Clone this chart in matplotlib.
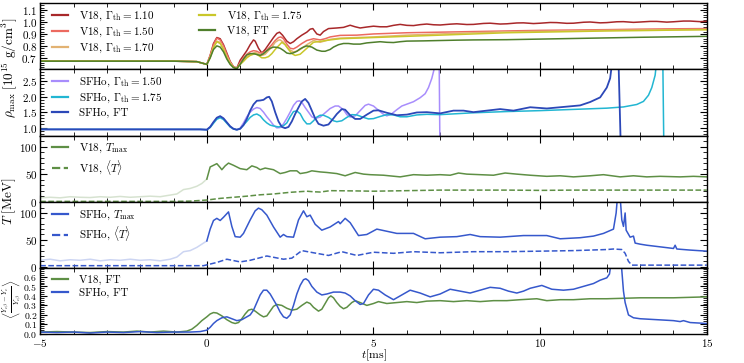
import matplotlib
matplotlib.use("Agg")
import matplotlib.pyplot as plt
from matplotlib.ticker import MultipleLocator, FixedLocator

plt.rcParams['font.family'] = ['cmr10', 'DejaVu Serif']
plt.rcParams['mathtext.fontset'] = 'cm'
plt.rcParams['axes.formatter.use_mathtext'] = True
plt.rcParams['axes.unicode_minus'] = True

# ---------------- panel 1: V18 max density ----------------
v18_110_t = [-5, -1, -0.3, 0.0, 0.1, 0.2, 0.3, 0.4, 0.5, 0.6, 0.7, 0.8, 0.9, 1.0, 1.1, 1.2, 1.3, 1.4,
             1.45, 1.55, 1.65, 1.75, 1.85, 2.0, 2.1, 2.18, 2.27, 2.4, 2.5, 2.6, 2.7, 2.85, 3.0, 3.1,
             3.18, 3.3, 3.4, 3.5, 3.65, 3.9, 4.1, 4.3, 4.45, 4.6, 4.8, 5.0, 5.2, 5.4, 5.6, 5.8, 6.0,
             6.2, 6.4, 6.6, 6.8, 7.0, 7.3, 7.5, 7.8, 8.0, 8.3, 8.5, 8.8, 9.0, 9.3, 9.5, 9.8, 10,
             10.3, 10.5, 10.8, 11, 11.3, 11.5, 11.8, 12, 12.3, 12.5, 12.8, 13, 13.3, 13.5, 13.8, 14,
             14.3, 14.5, 14.8, 15]
v18_110_r = [0.672, 0.672, 0.668, 0.645, 0.72, 0.82, 0.87, 0.86, 0.81, 0.74, 0.67, 0.625, 0.615,
             0.68, 0.72, 0.76, 0.81, 0.85, 0.84, 0.78, 0.74, 0.77, 0.81, 0.87, 0.905, 0.915, 0.89,
             0.84, 0.82, 0.835, 0.86, 0.89, 0.915, 0.94, 0.945, 0.90, 0.89, 0.92, 0.945, 0.95,
             0.955, 0.973, 0.96, 0.95, 0.958, 0.965, 0.96, 0.96, 0.972, 0.98, 0.972, 0.97, 0.978,
             0.983, 0.977, 0.975, 0.982, 0.985, 0.979, 0.98, 0.988, 0.99, 0.983, 0.985, 0.992,
             0.993, 0.987, 0.99, 0.996, 0.995, 0.989, 0.99, 0.998, 1.0, 0.993, 0.995, 1.002, 1.003,
             0.997, 1.0, 1.005, 1.005, 0.999, 1.002, 1.008, 1.008, 1.003, 1.006]

v18_150_t = [-5, -1, -0.3, 0.0, 0.1, 0.2, 0.3, 0.4, 0.5, 0.6, 0.7, 0.8, 0.9, 1.0, 1.1, 1.2, 1.3,
             1.4, 1.5, 1.6, 1.75, 1.85, 1.95, 2.05, 2.15, 2.22, 2.3, 2.4, 2.5, 2.6, 2.7, 2.85, 3.0,
             3.2, 3.4, 3.55, 3.7, 4.0, 4.5, 5.0, 5.5, 6, 7, 8, 9, 10, 11, 12, 13, 14, 15]
v18_150_r = [0.672, 0.672, 0.668, 0.645, 0.72, 0.81, 0.865, 0.85, 0.80, 0.73, 0.665, 0.625, 0.612,
             0.66, 0.70, 0.73, 0.75, 0.76, 0.755, 0.74, 0.75, 0.78, 0.81, 0.845, 0.87, 0.875,
             0.86, 0.815, 0.78, 0.775, 0.79, 0.82, 0.845, 0.86, 0.85, 0.86, 0.875, 0.888, 0.89,
             0.9, 0.905, 0.91, 0.915, 0.92, 0.925, 0.93, 0.933, 0.936, 0.94, 0.943, 0.945]

v18_170_t = [-5, -1, -0.3, 0.0, 0.1, 0.2, 0.3, 0.4, 0.5, 0.6, 0.7, 0.8, 0.9, 1.0, 1.1, 1.2, 1.3,
             1.45, 1.55, 1.65, 1.75, 1.85, 1.95, 2.05, 2.15, 2.2, 2.3, 2.4, 2.5, 2.6, 2.7, 2.8, 3.0,
             3.2, 3.4, 3.7, 4.0, 4.5, 5, 6, 7, 8, 9, 10, 11, 12, 13, 14, 15]
v18_170_r = [0.672, 0.672, 0.668, 0.645, 0.71, 0.79, 0.84, 0.83, 0.78, 0.71, 0.66, 0.622, 0.612,
             0.65, 0.68, 0.71, 0.73, 0.745, 0.735, 0.72, 0.73, 0.76, 0.79, 0.83, 0.848, 0.85,
             0.83, 0.79, 0.765, 0.75, 0.755, 0.77, 0.81, 0.845, 0.83, 0.855, 0.865, 0.87, 0.875,
             0.89, 0.9, 0.91, 0.918, 0.922, 0.926, 0.93, 0.933, 0.936, 0.938]

v18_175_t = [-5, -1, -0.3, 0.0, 0.1, 0.2, 0.3, 0.4, 0.5, 0.6, 0.7, 0.8, 0.9, 1.0, 1.1, 1.2, 1.3,
             1.45, 1.55, 1.65, 1.75, 1.85, 1.95, 2.05, 2.15, 2.25, 2.35, 2.45, 2.55, 2.65, 2.8,
             3.0, 3.2, 3.45, 3.7, 4.0, 4.5, 5, 6, 7, 8, 9, 10, 11, 12, 13, 14, 15]
v18_175_r = [0.672, 0.672, 0.668, 0.645, 0.70, 0.785, 0.835, 0.82, 0.77, 0.70, 0.65, 0.62, 0.61,
             0.645, 0.67, 0.70, 0.72, 0.735, 0.72, 0.70, 0.70, 0.71, 0.735, 0.77, 0.80, 0.83,
             0.81, 0.77, 0.735, 0.72, 0.73, 0.78, 0.83, 0.84, 0.85, 0.86, 0.865, 0.87, 0.88, 0.89,
             0.9, 0.91, 0.915, 0.92, 0.925, 0.928, 0.932, 0.935]

v18_ft_t = [-5, -1, -0.3, 0.0, 0.1, 0.2, 0.3, 0.4, 0.5, 0.6, 0.7, 0.8, 0.9, 1.0, 1.1, 1.2, 1.3,
            1.4, 1.5, 1.6, 1.7, 1.8, 1.9, 2.0, 2.1, 2.2, 2.3, 2.4, 2.5, 2.6, 2.7, 2.8, 2.9, 3.0,
            3.15, 3.3, 3.45, 3.55, 3.7, 3.8, 3.95, 4.1, 4.25, 4.4, 4.6, 4.8, 5.0, 5.2, 5.4, 5.6,
            5.8, 6, 6.5, 7, 7.5, 8, 9, 10, 11, 12, 13, 14, 15]
v18_ft_r = [0.672, 0.672, 0.668, 0.645, 0.70, 0.77, 0.80, 0.79, 0.75, 0.69, 0.645, 0.618, 0.61,
            0.645, 0.69, 0.725, 0.735, 0.735, 0.728, 0.72, 0.735, 0.76, 0.78, 0.79, 0.788, 0.78,
            0.762, 0.74, 0.735, 0.742, 0.755, 0.775, 0.79, 0.80, 0.79, 0.765, 0.755, 0.755,
            0.77, 0.79, 0.81, 0.82, 0.82, 0.815, 0.815, 0.825, 0.83, 0.835, 0.83, 0.828, 0.835,
            0.84, 0.842, 0.845, 0.848, 0.85, 0.852, 0.857, 0.862, 0.867, 0.872, 0.876, 0.88]

# ---------------- panel 2: SFHo max density ----------------
sfho_150_t = [-5, -1, -0.2, 0.0, 0.1, 0.2, 0.3, 0.4, 0.5, 0.6, 0.7, 0.8, 0.9, 1.0, 1.1, 1.2, 1.3,
              1.4, 1.5, 1.6, 1.7, 1.8, 1.9, 2.0, 2.1, 2.2, 2.3, 2.4, 2.5, 2.6, 2.7, 2.78, 2.85,
              2.95, 3.05, 3.15, 3.25, 3.4, 3.55, 3.7, 3.85, 3.95, 4.1, 4.2, 4.3, 4.45, 4.6, 4.75,
              4.85, 5.0, 5.15, 5.3, 5.4, 5.55, 5.7, 5.85, 6.0, 6.2, 6.4, 6.55, 6.65, 6.75, 6.82,
              6.86, 6.97, 7.0]
sfho_150_r = [0.94, 0.94, 0.94, 0.93, 1.02, 1.17, 1.31, 1.36, 1.29, 1.16, 1.03, 0.95, 0.93, 0.98,
              1.15, 1.35, 1.5, 1.6, 1.65, 1.62, 1.5, 1.35, 1.22, 1.08, 0.99, 1.0, 1.12, 1.3, 1.5,
              1.72, 1.85, 1.87, 1.82, 1.65, 1.5, 1.35, 1.3, 1.34, 1.48, 1.62, 1.7, 1.7, 1.58,
              1.42, 1.34, 1.38, 1.55, 1.72, 1.76, 1.7, 1.56, 1.43, 1.38, 1.45, 1.58, 1.7, 1.76,
              1.84, 1.97, 2.1, 2.3, 2.6, 2.9, 3.2, 3.2, -0.5]

sfho_175_t = [-5, -1, -0.2, 0.0, 0.1, 0.2, 0.3, 0.4, 0.5, 0.6, 0.7, 0.8, 0.9, 1.0, 1.1, 1.2, 1.3,
              1.4, 1.5, 1.6, 1.7, 1.8, 1.9, 2.0, 2.15, 2.3, 2.4, 2.5, 2.6, 2.7, 2.8, 2.9, 3.0, 3.1,
              3.2, 3.3, 3.4, 3.5, 3.65, 3.8, 3.9, 4.05, 4.2, 4.35, 4.5, 4.7, 4.85, 5.0, 5.2, 5.4,
              5.6, 5.8, 6.0, 6.3, 6.6, 7.0, 7.5, 8, 9, 10, 11, 12, 12.5, 12.9, 13.1, 13.25, 13.35,
              13.45, 13.5, 13.68, 13.72]
sfho_175_r = [0.94, 0.94, 0.94, 0.93, 1.0, 1.14, 1.27, 1.32, 1.26, 1.14, 1.02, 0.95, 0.93, 0.96,
              1.08, 1.2, 1.33, 1.41, 1.44, 1.38, 1.25, 1.15, 1.08, 1.05, 1.02, 1.06, 1.15, 1.35,
              1.52, 1.54, 1.45, 1.25, 1.12, 1.12, 1.22, 1.34, 1.4, 1.4, 1.33, 1.22, 1.19, 1.22,
              1.33, 1.42, 1.41, 1.33, 1.28, 1.29, 1.36, 1.42, 1.41, 1.35, 1.35, 1.41, 1.43, 1.42,
              1.45, 1.48, 1.52, 1.55, 1.59, 1.63, 1.67, 1.75, 1.85, 2.05, 2.3, 2.7, 3.2, 3.2, -0.5]

sfho_ft_t = [-5, -1, -0.2, 0.0, 0.1, 0.2, 0.3, 0.4, 0.5, 0.6, 0.7, 0.8, 0.9, 1.0, 1.1, 1.2, 1.3,
             1.4, 1.5, 1.6, 1.7, 1.8, 1.87, 1.95, 2.05, 2.15, 2.25, 2.35, 2.45, 2.55, 2.65, 2.75,
             2.85, 2.95, 3.05, 3.15, 3.25, 3.35, 3.5, 3.65, 3.8, 3.9, 4.05, 4.15, 4.3, 4.45, 4.6,
             4.8, 5.0, 5.15, 5.4, 5.7, 6.0, 6.3, 6.6, 7.0, 7.4, 7.7, 8.0, 8.4, 8.8, 9.2, 9.7, 10.2,
             10.7, 11.2, 11.5, 11.8, 12.0, 12.1, 12.17, 12.35, 12.44]
sfho_ft_r = [0.94, 0.94, 0.94, 0.93, 1.02, 1.18, 1.32, 1.37, 1.30, 1.17, 1.04, 0.96, 0.93, 0.96,
             1.08, 1.28, 1.55, 1.75, 1.87, 1.88, 1.9, 1.98, 2.0, 1.85, 1.5, 1.2, 1.02, 0.98, 1.02,
             1.2, 1.44, 1.65, 1.85, 1.93, 1.8, 1.55, 1.3, 1.12, 1.06, 1.1, 1.3, 1.44, 1.6, 1.58,
             1.4, 1.28, 1.28, 1.42, 1.55, 1.56, 1.48, 1.4, 1.42, 1.49, 1.5, 1.46, 1.55, 1.55, 1.5,
             1.55, 1.6, 1.55, 1.66, 1.62, 1.67, 1.72, 1.83, 1.98, 2.3, 2.6, 3.2, 3.2, -0.5]

# ---------------- panel 3: V18 temperatures ----------------
v18_pre_t = [-5, -4.7, -4.4, -4.1, -3.8, -3.5, -3.2, -2.9, -2.6, -2.3, -2.0, -1.7, -1.4, -1.1, -0.9,
             -0.7, -0.5, -0.3, -0.15, 0.0]
v18_pre_T = [7, 8, 7, 9, 8, 7.5, 9, 8, 9.5, 8, 9, 10, 9, 12, 14, 22, 24, 28, 33, 41]
v18_tmax_t = [0.0, 0.1, 0.2, 0.3, 0.4, 0.45, 0.55, 0.65, 0.8, 1.0, 1.2, 1.35, 1.5, 1.6, 1.75, 2.0,
              2.2, 2.35, 2.5, 2.7, 2.8, 3.0, 3.15, 3.4, 3.6, 3.9, 4.15, 4.45, 4.7, 4.9, 5.3, 5.8,
              6.2, 6.6, 7.0, 7.3, 7.55, 7.8, 8.2, 8.6, 8.95, 9.3, 9.7, 10.2, 10.6, 11.0, 11.5, 11.9,
              12.4, 12.8, 13.2, 13.6, 14.2, 14.6, 15]
v18_tmax_T = [41, 63, 66, 69, 62, 58, 65, 70, 66, 60, 58, 65, 62, 58, 61, 58, 51, 53, 56, 56, 51,
              53, 56, 54, 53, 51, 47, 53, 50, 49, 48, 45, 49, 48, 49, 48, 52, 50, 49, 48, 52, 50,
              48, 46, 47, 45, 47, 49, 45, 47, 45, 46, 45, 46, 45]
v18_tavg_t = [-5, -1, -0.5, 0.0, 0.4, 0.8, 1.2, 1.6, 2.0, 2.5, 3.0, 3.2, 3.4, 3.7, 4.5, 5, 6, 7, 8,
              9, 10, 11, 12, 13, 14, 15]
v18_tavg_T = [0.5, 0.5, 1, 3, 6, 8, 10, 12.5, 14, 17, 19, 18, 17.5, 20, 19.5, 19, 20, 21, 21, 21,
              20.5, 21, 21, 21, 21, 21]

# ---------------- panel 4: SFHo temperatures ----------------
sfho_pre_t = [-5, -4.7, -4.4, -4.1, -3.8, -3.5, -3.2, -2.9, -2.6, -2.3, -2.0, -1.7, -1.4, -1.1, -0.9,
              -0.7, -0.5, -0.3, -0.15, 0.0]
sfho_pre_T = [12, 14, 11, 13, 12, 14, 11, 13, 12, 14, 12, 13, 11, 14, 18, 28, 30, 36, 42, 48]
sfho_tmax_t = [0.0, 0.1, 0.2, 0.3, 0.4, 0.5, 0.65, 0.75, 0.85, 1.0, 1.1, 1.3, 1.45, 1.55, 1.65, 1.8,
               2.0, 2.2, 2.3, 2.4, 2.6, 2.75, 2.9, 3.0, 3.1, 3.25, 3.45, 3.7, 3.95, 4.0, 4.15, 4.3,
               4.55, 4.8, 5.1, 5.4, 5.7, 6.2, 6.55, 7.0, 7.5, 7.9, 8.2, 8.8, 9.5, 10.2, 10.6,
               11.2, 11.6, 11.9, 12.2, 12.28, 12.32, 12.4, 12.45, 12.5, 12.55, 12.58, 12.7, 12.8,
               12.85, 13.0, 13.2, 13.6, 14.0, 14.05, 14.1, 14.5, 15]
sfho_tmax_T = [48, 70, 86, 90, 86, 92, 102, 75, 56, 55, 62, 87, 104, 109, 106, 96, 74, 55, 60,
               56, 55, 87, 104, 93, 96, 79, 68, 74, 84, 80, 90, 82, 58, 60, 70, 66, 62, 62, 52,
               55, 56, 60, 56, 55, 58, 58, 52, 54, 57, 62, 70, 100, 130, 130, 87, 75, 100, 68,
               55, 57, 44, 42, 40, 37, 34, 40, 33, 31, 29]
sfho_tavg_t = [-5, -0.1, 0.3, 0.6, 1.0, 1.3, 1.8, 2.3, 2.55, 2.85, 3.2, 3.65, 4.05, 4.5, 5.0, 5.6,
               6.2, 7.0, 8, 9, 10, 11, 12, 12.2, 12.45, 12.55, 12.65, 12.75, 15]
sfho_tavg_T = [2, 2, 8, 14, 9, 12, 20, 14, 16, 30, 26, 21, 28, 21, 27, 25, 28, 26, 28, 28, 29, 30,
               32, 33, 32, 25, 10, 3, 3]

# ---------------- panel 5: electron fraction deviation ----------------
ye_v18_t = [-5, -4.5, -4, -3.5, -3, -2.5, -2.1, -1.7, -1.3, -0.9, -0.6, -0.45, -0.3, -0.15, 0.0,
            0.1, 0.2, 0.3, 0.45, 0.6, 0.75, 0.85, 0.95, 1.05, 1.15, 1.25, 1.35, 1.45, 1.6, 1.7,
            1.8, 1.9, 2.0, 2.1, 2.25, 2.4, 2.55, 2.7, 2.85, 3.0, 3.1, 3.2, 3.35, 3.45, 3.55, 3.65,
            3.72, 3.8, 3.9, 4.0, 4.1, 4.2, 4.35, 4.45, 4.6, 4.8, 5.0, 5.15, 5.4, 5.7, 6.0, 6.3,
            6.6, 7.0, 7.4, 7.8, 8.2, 8.6, 9.0, 9.4, 9.9, 10.2, 10.6, 11.0, 11.5, 12, 12.5, 13,
            14, 15]
ye_v18 = [0.02, 0.025, 0.02, 0.015, 0.025, 0.02, 0.03, 0.02, 0.03, 0.02, 0.03, 0.05, 0.09, 0.14,
          0.18, 0.21, 0.225, 0.22, 0.19, 0.15, 0.12, 0.11, 0.12, 0.16, 0.21, 0.25, 0.26, 0.24,
          0.2, 0.18, 0.19, 0.24, 0.29, 0.31, 0.30, 0.27, 0.25, 0.26, 0.30, 0.335, 0.32, 0.28,
          0.24, 0.26, 0.32, 0.38, 0.40, 0.38, 0.33, 0.29, 0.265, 0.28, 0.33, 0.35, 0.33, 0.30,
          0.32, 0.34, 0.32, 0.33, 0.34, 0.33, 0.345, 0.35, 0.34, 0.35, 0.34, 0.35, 0.35, 0.36,
          0.37, 0.35, 0.36, 0.36, 0.37, 0.37, 0.375, 0.38, 0.38, 0.39]
ye_sfho_t = [-5, -4.5, -4, -3.5, -3, -2.5, -2, -1.5, -1, -0.5, -0.2, 0.0, 0.1, 0.2, 0.3, 0.45, 0.6,
             0.75, 0.9, 1.05, 1.2, 1.3, 1.4, 1.5, 1.6, 1.7, 1.8, 1.9, 2.0, 2.1, 2.2, 2.3, 2.4, 2.5,
             2.6, 2.7, 2.8, 2.9, 2.97, 3.05, 3.15, 3.3, 3.45, 3.6, 3.8, 4.0, 4.15, 4.3, 4.45, 4.6,
             4.7, 4.85, 5.0, 5.15, 5.35, 5.6, 5.85, 6.1, 6.4, 6.7, 7.0, 7.3, 7.6, 7.9, 8.2, 8.5,
             8.8, 9.05, 9.3, 9.5, 9.7, 10.05, 10.35, 10.7, 11.0, 11.3, 11.6, 11.8, 12.0, 12.08,
             12.15, 12.42, 12.5, 12.55, 12.65, 12.8, 13.0, 13.5, 14.0, 14.2, 14.3, 14.5, 15]
ye_sfho = [0.02, 0.015, 0.02, 0.01, 0.02, 0.015, 0.025, 0.015, 0.02, 0.02, 0.025, 0.04, 0.07,
           0.11, 0.14, 0.17, 0.18, 0.16, 0.14, 0.15, 0.18, 0.2, 0.25, 0.33, 0.41, 0.46, 0.46,
           0.42, 0.36, 0.30, 0.23, 0.18, 0.165, 0.2, 0.3, 0.42, 0.51, 0.57, 0.58, 0.56, 0.5,
           0.44, 0.41, 0.42, 0.44, 0.44, 0.43, 0.40, 0.35, 0.31, 0.32, 0.41, 0.47, 0.46, 0.41,
           0.36, 0.41, 0.46, 0.43, 0.39, 0.42, 0.47, 0.45, 0.43, 0.46, 0.49, 0.48, 0.45, 0.43,
           0.45, 0.48, 0.51, 0.47, 0.46, 0.47, 0.5, 0.53, 0.565, 0.59, 0.63, 0.8, 0.8, 0.45,
           0.33, 0.2, 0.17, 0.16, 0.15, 0.14, 0.13, 0.14, 0.12, 0.11]

# colours
c_110, c_150, c_170, c_175, c_ft = '#a8282a', '#ec6a60', '#e2b272', '#c9c72a', '#4f7f2c'
c_s150, c_s175, c_sft = '#a88dfc', '#22b6d2', '#2c48b8'
c_green, c_blue = '#5e8f45', '#3658cc'

fig = plt.figure(figsize=(7.44, 3.63), dpi=100)
gs = fig.add_gridspec(5, 1, left=0.054, right=0.950, top=0.991, bottom=0.080, hspace=0)
axes = [fig.add_subplot(gs[i]) for i in range(5)]
for ax in axes[1:]:
    ax.sharex(axes[0])

lw = 1.1
ax1, ax2, ax3, ax4, ax5 = axes
ax1.plot(v18_110_t, v18_110_r, color=c_110, lw=lw, label=r'V18, $\Gamma_{\rm th} = 1.10$')
ax1.plot(v18_150_t, v18_150_r, color=c_150, lw=lw, label=r'V18, $\Gamma_{\rm th} = 1.50$')
ax1.plot(v18_170_t, v18_170_r, color=c_170, lw=lw, label=r'V18, $\Gamma_{\rm th} = 1.70$')
ax1.plot(v18_175_t, v18_175_r, color=c_175, lw=lw, label=r'V18, $\Gamma_{\rm th} = 1.75$')
ax1.plot(v18_ft_t, v18_ft_r, color=c_ft, lw=lw, label='V18, FT')
ax1.set_ylim(0.603, 1.157)
ax1.yaxis.set_major_locator(FixedLocator([0.7, 0.8, 0.9, 1.0, 1.1]))
ax1.yaxis.set_minor_locator(MultipleLocator(0.02))

ax2.plot(sfho_150_t, sfho_150_r, color=c_s150, lw=lw, label=r'SFHo, $\Gamma_{\rm th} = 1.50$')
ax2.plot(sfho_175_t, sfho_175_r, color=c_s175, lw=lw, label=r'SFHo, $\Gamma_{\rm th} = 1.75$')
ax2.plot(sfho_ft_t, sfho_ft_r, color=c_sft, lw=1.3, label='SFHo, FT')
ax2.set_ylim(0.74, 2.89)
ax2.yaxis.set_major_locator(FixedLocator([1.0, 1.5, 2.0, 2.5]))
ax2.yaxis.set_minor_locator(MultipleLocator(0.1))

ax3.plot(v18_pre_t, v18_pre_T, color=c_green, lw=lw, alpha=0.25)
ax3.plot(v18_tmax_t, v18_tmax_T, color=c_green, lw=lw, label=r'V18, $T_{\rm max}$')
ax3.plot(v18_tavg_t, v18_tavg_T, color=c_green, lw=lw, ls='--', label=r'V18, $\langle T\rangle$')
ax3.set_ylim(0, 120)

ax4.plot(sfho_pre_t, sfho_pre_T, color=c_blue, lw=lw, alpha=0.25)
ax4.plot(sfho_tmax_t, sfho_tmax_T, color=c_blue, lw=lw, label=r'SFHo, $T_{\rm max}$')
ax4.plot(sfho_tavg_t, sfho_tavg_T, color=c_blue, lw=lw, ls='--', label=r'SFHo, $\langle T\rangle$')
ax4.set_ylim(-2, 121)
for ax in (ax3, ax4):
    ax.yaxis.set_major_locator(FixedLocator([0, 50, 100]))
    ax.yaxis.set_minor_locator(MultipleLocator(10))

ax5.plot(ye_v18_t, ye_v18, color=c_green, lw=lw, label='V18, FT')
ax5.plot(ye_sfho_t, ye_sfho, color=c_blue, lw=lw, label='SFHo, FT')
ax5.set_ylim(0, 0.695)
ax5.yaxis.set_major_locator(FixedLocator([0.0, 0.1, 0.2, 0.3, 0.4, 0.5, 0.6]))
ax5.yaxis.set_minor_locator(MultipleLocator(0.02))

ax5.set_xlim(-5, 15)
ax5.xaxis.set_major_locator(MultipleLocator(5))
ax5.xaxis.set_minor_locator(MultipleLocator(1))
ax5.set_xlabel(r'$t[\mathrm{ms}]$', fontsize=8.5, labelpad=-1)

for ax in axes:
    ax.tick_params(which='both', direction='in', top=True, right=True, labelsize=8, pad=2)
    ax.tick_params(which='major', length=5, width=0.8)
    ax.tick_params(which='minor', length=3, width=0.6)
    for s in ax.spines.values():
        s.set_linewidth(1.0)
    if ax is not ax5:
        ax.tick_params(labelbottom=False)
# the bottom panel packs seven labels into a short axis
ax5.tick_params(axis='y', labelsize=7)

leg_kw = dict(loc='upper left', bbox_to_anchor=(0.013, 0.95), frameon=False, fontsize=8,
              handlelength=1.45, handletextpad=1.0, labelspacing=0.25, borderaxespad=0.0,
              borderpad=0.3)
legs = [ax1.legend(ncol=2, columnspacing=4.0, **leg_kw)]
for ax in (ax2, ax3, ax4, ax5):
    legs.append(ax.legend(**leg_kw))
for leg in legs:
    for line in leg.get_lines():
        line.set_linewidth(1.6)

fig.text(0.013, 0.813, r'$\rho_{\rm max}\ [10^{15}\ \mathrm{g/cm^3}]$', rotation=90,
         ha='center', va='center', fontsize=9.5)
fig.text(0.013, 0.446, r'$T\ [\mathrm{MeV}]$', rotation=90, ha='center', va='center', fontsize=9.5)
fig.text(0.015, 0.176, r'$\left\langle\frac{Y_{e\beta}-Y_e}{Y_{e\beta}}\right\rangle$', rotation=90,
         ha='center', va='center', fontsize=7.5)

fig.savefig('out.png', dpi=100)
